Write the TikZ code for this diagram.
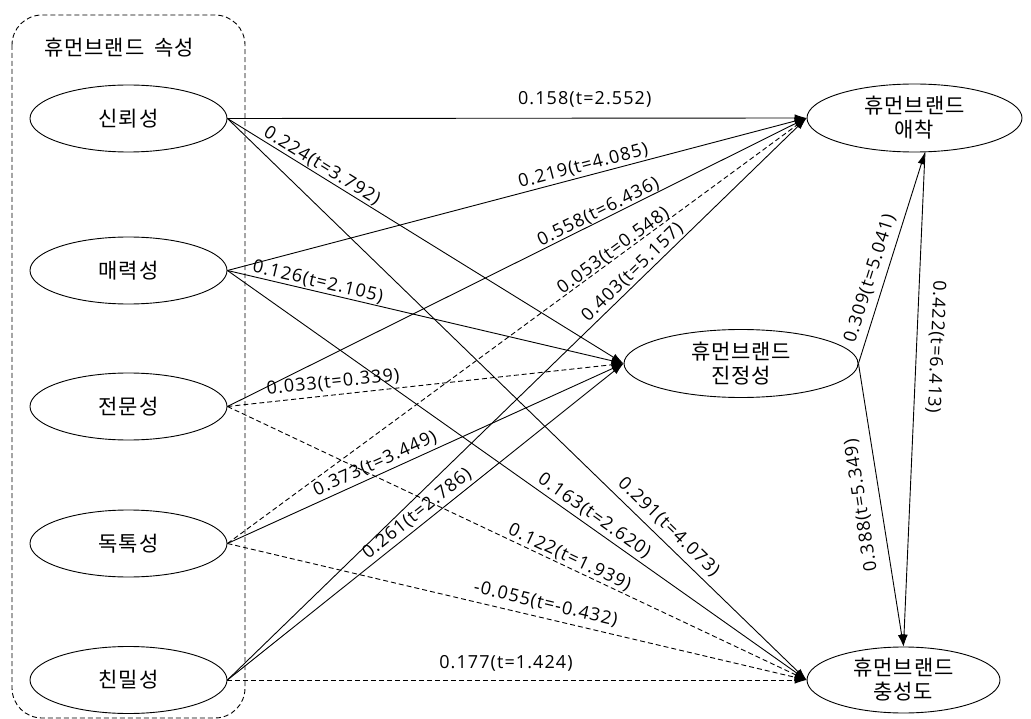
\documentclass[tikz,border=0pt]{standalone}
\usepackage{fontspec}
\setmainfont{Noto Sans CJK KR}[LetterSpace=4]
\newfontfamily\labfont{Open Sans}[LetterSpace=6]
\usetikzlibrary{shapes.geometric,arrows.meta}
\tikzset{
  ell/.style={draw, ellipse, inner sep=0pt, line width=0.9pt, font=\fontsize{21}{24}\selectfont, align=center},
  lell/.style={ell, minimum width=197pt, minimum height=67pt},
  lab/.style={font=\labfont\fontsize{18}{20}\selectfont, inner sep=2pt},
  arr/.style={-{Latex[length=12pt,width=7.5pt]}, line width=0.9pt},
  rarr/.style={{Latex[length=12pt,width=7.5pt]}-, line width=0.9pt},
  dsh/.style={dash pattern=on 5pt off 3pt},
  grp/.style={draw, line width=0.9pt, dash pattern=on 5pt off 3pt, rounded corners=30pt},
}
\begin{document}
\begin{tikzpicture}[x=1pt, y=-1pt]
\useasboundingbox (0,0) rectangle (1031,719);
\draw[grp] (12,15) rectangle (245,718);
\node[font=\fontsize{21}{24}\selectfont] (ttl) at (119,48) {휴먼브랜드 \hspace{4pt}속성};

\node[lell] (s1) at (128.5,118.5) {신뢰성};
\node[lell] (s2) at (128.5,270.5) {매력성};
\node[lell] (s3) at (128.5,406.5) {전문성};
\node[lell] (s4) at (128.5,543.5) {독톡성};
\node[lell] (s5) at (128.5,680) {친밀성};

\node[ell, minimum width=215pt, minimum height=68pt] (ae) at (914.5,118) {휴먼브랜드\\애착};
\node[ell, minimum width=234pt, minimum height=68pt] (jj) at (741,363.5) {휴먼브랜드\\진정성};
\node[ell, minimum width=193pt, minimum height=66pt] (ch) at (903.5,680) {휴먼브랜드\\충성도};

% to 애착
\draw[arr] (s1.east) -- node[lab, sloped, pos=0.617, above=8pt] {0.158(t=2.552)} (ae.west);
\draw[arr] (s2.east) -- node[lab, sloped, pos=0.619, above=0pt] {0.219(t=4.085)} (ae.west);
\draw[arr] (s3.east) -- node[lab, sloped, pos=0.647, above=-2pt] {0.558(t=6.436)} (ae.west);
\draw[arr, dsh] (s4.east) -- node[lab, sloped, pos=0.674, above=-3pt] {0.053(t=0.548)} (ae.west);
\draw[arr] (s5.east) -- node[lab, sloped, pos=0.712, above=0pt] {0.403(t=5.157)} (ae.west);

% to 진정성
\draw[arr] (s1.east) -- node[lab, sloped, pos=0.226, above=-1pt] {0.224(t=3.792)} (jj.west);
\draw[arr] (s2.east) -- node[lab, sloped, pos=0.223, above=-1pt] {0.126(t=2.105)} (jj.west);
\draw[arr, dsh] (s3.east) -- node[lab, sloped, pos=0.27, above=2pt] {0.033(t=0.339)} (jj.west);
\draw[arr] (s4.east) -- node[lab, sloped, pos=0.385, above=1pt] {0.373(t=3.449)} (jj.west);
\draw[arr] (s5.east) -- node[lab, sloped, pos=0.497, above=1pt] {0.261(t=2.786)} (jj.west);

% to 충성도
\draw[arr] (s1.east) -- node[lab, sloped, pos=0.745, above=3.5pt] {0.291(t=4.073)} (ch.west);
\draw[arr] (s2.east) -- node[lab, sloped, pos=0.622, above=1pt] {0.163(t=2.620)} (ch.west);
\draw[arr, dsh] (s3.east) -- node[lab, sloped, pos=0.584, above=-1pt] {0.122(t=1.939)} (ch.west);
\draw[arr, dsh] (s4.east) -- node[lab, sloped, pos=0.544, above=3.5pt] {-0.055(t=-0.432)} (ch.west);
\draw[arr, dsh] (s5.east) -- node[lab, sloped, pos=0.481, above=6pt] {0.177(t=1.424)} (ch.west);

% right side
\draw[arr] (jj.east) -- node[lab, sloped, pos=0.38, above=4pt] {0.309(t=5.041)} (ae.-73);
\draw[rarr] (ch.north) -- node[lab, sloped, allow upside down, pos=0.51, above=9pt] {0.388(t=5.349)} (jj.east);
\draw[arr] (ae.-73) -- node[lab, sloped, allow upside down, pos=0.392, above=9pt] {0.422(t=6.413)} (ch.north);
\end{tikzpicture}
\end{document}
